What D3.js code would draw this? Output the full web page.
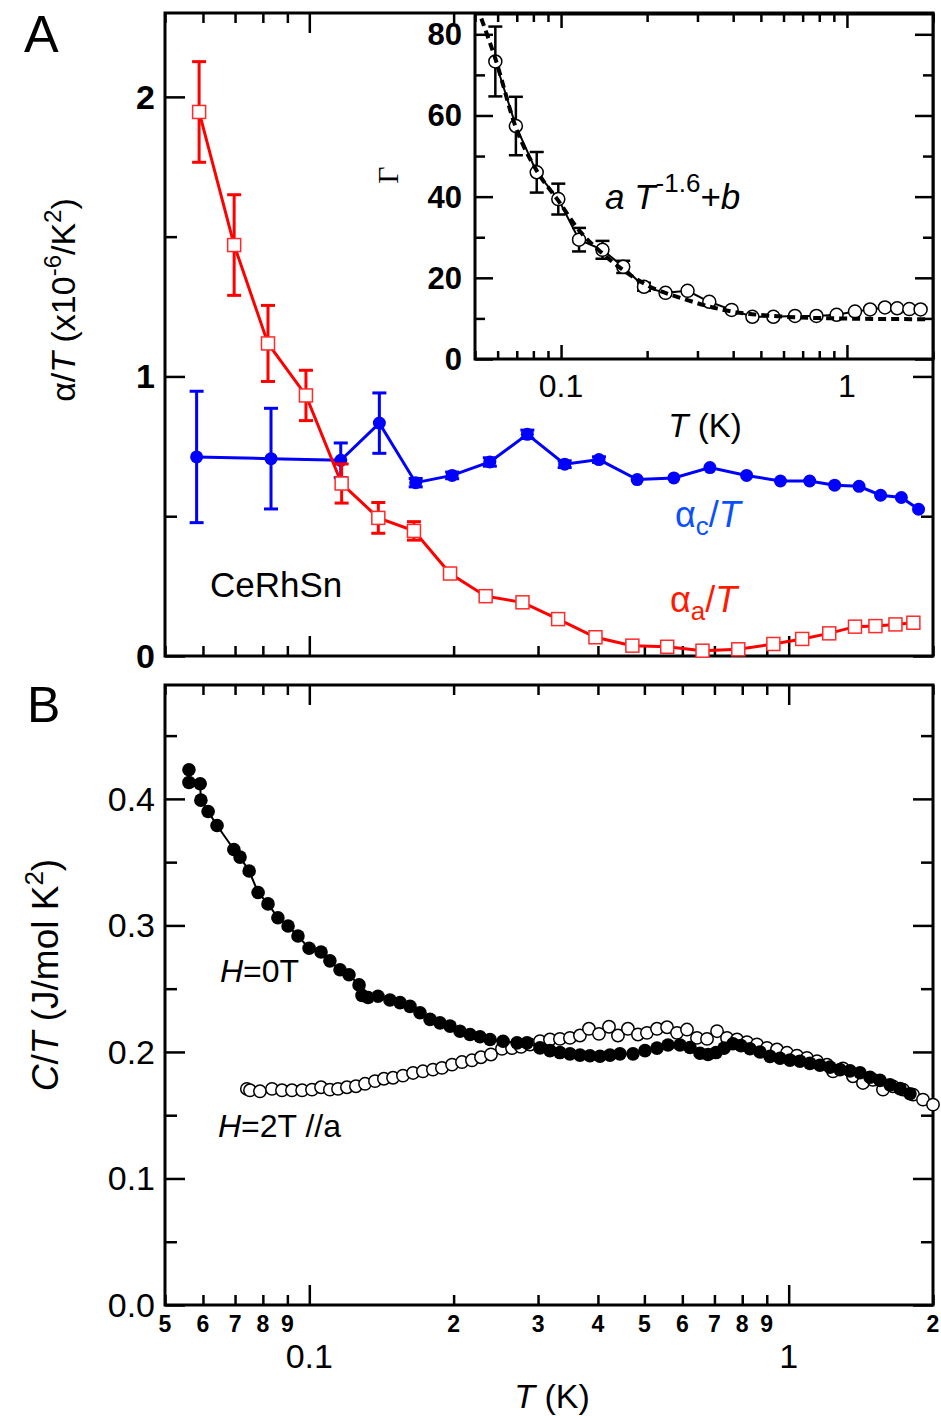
<!DOCTYPE html>
<html>
<head>
<meta charset="utf-8">
<script src="https://cdn.jsdelivr.net/npm/d3@7"></script>
<style>
  body { margin: 0; background: #fff; }
  svg { display: block; font-family: "Liberation Sans", Arial, sans-serif; }
</style>
</head>
<body>
<svg id="fig" width="941" height="1416"></svg>
<script>
// ---------------- panel A : alpha/T ----------------
var aT   = [0.0589, 0.0697, 0.082, 0.0984, 0.1168, 0.1393, 0.1653, 0.1966, 0.2333, 0.2784, 0.3304, 0.3953,
            0.472, 0.558, 0.661, 0.785, 0.929, 1.067, 1.215, 1.375, 1.517, 1.67, 1.82];
var aVal = [1.946, 1.470, 1.118, 0.932, 0.617, 0.494, 0.4475, 0.295, 0.214, 0.192, 0.132, 0.067,
            0.037, 0.033, 0.019, 0.024, 0.043, 0.061, 0.081, 0.105, 0.107, 0.113, 0.119];
var aErr = [0.18, 0.18, 0.136, 0.09, 0.07, 0.055, 0.033, 0.01, 0, 0, 0, 0,
            0, 0, 0, 0, 0, 0, 0, 0, 0, 0, 0];

var cT   = [0.0582, 0.0832, 0.1163, 0.140, 0.1667, 0.1986, 0.238, 0.285, 0.341, 0.402, 0.483,
            0.576, 0.685, 0.817, 0.961, 1.106, 1.247, 1.402, 1.555, 1.718, 1.866];
var cVal = [0.712, 0.706, 0.700, 0.833, 0.620, 0.646, 0.694, 0.793, 0.686, 0.7025, 0.631,
            0.637, 0.674, 0.646, 0.626, 0.626, 0.611, 0.607, 0.575, 0.567, 0.525];
var cErr = [0.235, 0.18, 0.062, 0.108, 0.015, 0.012, 0.015, 0.015, 0.012, 0.01, 0,
            0, 0, 0, 0, 0, 0, 0, 0, 0, 0];

// inset : Gamma
var gT   = [0.0589, 0.0695, 0.0822, 0.0978, 0.1156, 0.1396, 0.165, 0.195, 0.232, 0.277, 0.330, 0.395,
            0.467, 0.553, 0.658, 0.782, 0.920, 1.067, 1.205, 1.358, 1.499, 1.653, 1.81];
var gVal = [73.3, 57.4, 46.0, 39.4, 29.4, 26.9, 22.7, 17.8, 16.3, 16.8, 14.1, 12.1,
            10.4, 10.4, 10.6, 10.6, 10.9, 11.7, 12.2, 12.7, 12.5, 12.3, 12.2];
var gErr = [8.6, 7.2, 5.0, 3.8, 2.9, 2.2, 1.5, 1.0, 0, 0, 0, 0,
            0, 0, 0, 0, 0, 0, 0, 0, 0, 0, 0];
// dashed fit a*T^-1.6+b
var fitT = [0.0526, 0.0589, 0.0695, 0.0822, 0.0978, 0.1156, 0.1396, 0.165, 0.195, 0.277, 0.395, 0.553, 0.92, 1.95];
var fitG = [83.9, 74, 57, 46.4, 39, 31.7, 26, 21.9, 18.6, 14.5, 11.7, 10.6, 10.0, 9.8];

// ---------------- panel B : C/T ----------------
var h0T = [0.0561, 0.0561, 0.0592, 0.0594, 0.0615, 0.0642, 0.0696, 0.0717, 0.0749, 0.0782, 0.0820, 0.0860,
           0.0903, 0.0947, 0.0999, 0.1058, 0.1104, 0.1159, 0.1210, 0.1270, 0.1288, 0.1326, 0.1391, 0.1473,
           0.1546, 0.1622, 0.1702, 0.1786, 0.1873, 0.1966, 0.2062, 0.2164, 0.2270, 0.2382, 0.2536, 0.2712,
           0.2845, 0.3028, 0.3177, 0.3333, 0.3497, 0.3669, 0.3849, 0.4039, 0.4238, 0.4446, 0.4734, 0.5015,
           0.5312, 0.5601, 0.5933, 0.6225, 0.6531, 0.6788, 0.7053, 0.7330, 0.7652, 0.7952, 0.8303, 0.8711,
           0.9141, 0.9590, 1.0061, 1.0555, 1.1073, 1.1620, 1.2190, 1.2793, 1.3425, 1.4084, 1.4777, 1.5502,
           1.6266, 1.7067, 1.7905];
var h0Val = [0.423, 0.413, 0.412, 0.399, 0.390, 0.379, 0.360, 0.354, 0.343, 0.326, 0.317, 0.306,
             0.2995, 0.2916, 0.2819, 0.279, 0.272, 0.265, 0.261, 0.253, 0.2447, 0.243, 0.244, 0.241,
             0.239, 0.236, 0.231, 0.2257, 0.223, 0.2204, 0.2164, 0.2138, 0.212, 0.2098, 0.2085, 0.2072,
             0.2072, 0.2032, 0.2010, 0.1995, 0.1985, 0.1975, 0.1970, 0.1966, 0.1975, 0.1985, 0.1985, 0.2010,
             0.2030, 0.2055, 0.2055, 0.2035, 0.1990, 0.1980, 0.1995, 0.2030, 0.2065, 0.2050, 0.2025, 0.2000,
             0.1965, 0.1950, 0.1935, 0.1927, 0.1910, 0.1895, 0.1880, 0.1860, 0.1850, 0.1835, 0.1800, 0.1775,
             0.1740, 0.1710, 0.1670];

var h2T = [0.0741, 0.0752, 0.0789, 0.0836, 0.0877, 0.0920, 0.0966, 0.1013, 0.1058, 0.1104, 0.1148, 0.1198,
           0.1251, 0.1307, 0.1371, 0.1431, 0.1495, 0.1568, 0.1646, 0.1726, 0.1811, 0.1891, 0.1985, 0.2082,
           0.2184, 0.2281, 0.2393, 0.2523, 0.2648, 0.2765, 0.2887, 0.3028, 0.3177, 0.3333, 0.3497, 0.3669,
           0.3831, 0.4020, 0.4218, 0.4404, 0.4620, 0.4848, 0.5062, 0.5312, 0.5575, 0.5848, 0.6135, 0.6437,
           0.6755, 0.7088, 0.7436, 0.7803, 0.8184, 0.8587, 0.9010, 0.9453, 0.9918, 1.0404, 1.0917, 1.1455,
           1.2018, 1.2369, 1.2977, 1.3615, 1.4288, 1.4991, 1.5729, 1.6502, 1.7314, 1.8167, 1.9061, 2.0];
var h2Val = [0.1708, 0.1697, 0.1689, 0.1708, 0.1697, 0.1697, 0.1697, 0.1702, 0.1721, 0.1702, 0.1708, 0.1721,
             0.1729, 0.1748, 0.1769, 0.1788, 0.1796, 0.1813, 0.1834, 0.1847, 0.1860, 0.1874, 0.1900, 0.1920,
             0.1934, 0.1958, 0.1980, 0.2025, 0.2030, 0.2040, 0.2059, 0.2085, 0.2098, 0.2103, 0.2111, 0.2130,
             0.2183, 0.2143, 0.2199, 0.2130, 0.2183, 0.2138, 0.2151, 0.2183, 0.2195, 0.2151, 0.2177, 0.2111,
             0.2103, 0.2164, 0.2111, 0.2098, 0.2077, 0.2059, 0.2032, 0.2019, 0.1993, 0.1971, 0.1953, 0.1927,
             0.1900, 0.1847, 0.1870, 0.1808, 0.1755, 0.1780, 0.1702, 0.1728, 0.1702, 0.1663, 0.1623, 0.1584];

var yTicksA = [0, 1, 2];
var yTicksB = [0, 0.1, 0.2, 0.3, 0.4];
var yTicksI = [0, 20, 40, 60, 80];

//================ scales ================
var x  = d3.scaleLog().domain([0.05, 2]).range([165, 933]);
var yA = d3.scaleLinear().domain([0, 2.3]).range([656, 13]);
var xi = d3.scaleLog().domain([0.05, 2]).range([475, 933]);
var yi = d3.scaleLinear().domain([0, 85]).range([359, 14]);
var yB = d3.scaleLinear().domain([0, 0.49]).range([1305, 685]);

var svg = d3.select("#fig");

var logAll = x.ticks();
var logMajor = [0.1, 1];
var logMinor = logAll.filter(function(d) { return logMajor.indexOf(d) < 0; });

// draw inward ticks only (no labels, no domain line)
function ticks(g, axis, vals, size, tr) {
    g.append("g")
        .attr("transform", tr)
        .call(axis.tickValues(vals).tickSize(-size).tickFormat(""))
        .call(function(s) {
            s.select(".domain").remove();
            s.selectAll("line").attr("stroke", "#000").attr("stroke-width", 2.5);
        });
}

function frame(g, xs, ys, o) {
    var x0 = xs.range()[0], x1 = xs.range()[1], y0 = ys.range()[0], y1 = ys.range()[1];
    g.append("rect").attr("x", x0).attr("y", y1).attr("width", x1 - x0).attr("height", y0 - y1)
        .attr("fill", o.fill || "none").attr("stroke", "#000").attr("stroke-width", 3);
    ticks(g, d3.axisBottom(xs), logMinor, o.xmin, "translate(0," + y0 + ")");
    ticks(g, d3.axisBottom(xs), logMajor, o.xmaj, "translate(0," + y0 + ")");
    ticks(g, d3.axisTop(xs), logMinor, o.xmin, "translate(0," + y1 + ")");
    ticks(g, d3.axisTop(xs), logMajor, o.xmaj, "translate(0," + y1 + ")");
    ticks(g, d3.axisLeft(ys), o.ymin, o.yminLen, "translate(" + x0 + ",0)");
    ticks(g, d3.axisLeft(ys), o.ymaj, o.ymajLen, "translate(" + x0 + ",0)");
    if (o.right) {
        ticks(g, d3.axisRight(ys), o.ymin, o.yminLen, "translate(" + x1 + ",0)");
        ticks(g, d3.axisRight(ys), o.ymaj, o.ymajLen, "translate(" + x1 + ",0)");
    }
}

function errBars(g, T, V, E, xs, ys, color, w) {
    var d = T.map(function(t, i) { return {t: t, v: V[i], e: E[i]}; }).filter(function(d) { return d.e > 0; });
    var eb = g.append("g").attr("stroke", color).attr("stroke-width", w);
    eb.selectAll(".v").data(d).enter().append("line")
        .attr("x1", function(d) { return xs(d.t); }).attr("x2", function(d) { return xs(d.t); })
        .attr("y1", function(d) { return ys(d.v + d.e); }).attr("y2", function(d) { return ys(d.v - d.e); });
    [1, -1].forEach(function(s) {
        eb.selectAll(".c" + s).data(d).enter().append("line")
            .attr("x1", function(d) { return xs(d.t) - 7; }).attr("x2", function(d) { return xs(d.t) + 7; })
            .attr("y1", function(d) { return ys(d.v + s * d.e); }).attr("y2", function(d) { return ys(d.v + s * d.e); });
    });
}

function zip(T, V) { return T.map(function(t, i) { return [t, V[i]]; }); }

//================ panel A ================
var gA = svg.append("g");
frame(gA, x, yA, {xmin: 10, xmaj: 20, ymaj: yTicksA, ymajLen: 20, ymin: [0.5, 1.5], yminLen: 12, right: true});

gA.selectAll(".ylA").data(yTicksA).enter().append("text")
    .attr("x", 155).attr("y", function(d) { return yA(d) + 12; })
    .attr("text-anchor", "end").attr("font-size", 34).attr("font-weight", "bold")
    .text(function(d) { return d; });

// alpha_c (blue)
errBars(gA, cT, cVal, cErr, x, yA, "#0000ff", 3);
gA.append("path").datum(zip(cT, cVal))
    .attr("d", d3.line().x(function(d) { return x(d[0]); }).y(function(d) { return yA(d[1]); }))
    .attr("fill", "none").attr("stroke", "#0000ff").attr("stroke-width", 3);
gA.selectAll(".cpt").data(zip(cT, cVal)).enter().append("circle")
    .attr("cx", function(d) { return x(d[0]); }).attr("cy", function(d) { return yA(d[1]); })
    .attr("r", 6.5).attr("fill", "#0000ff");

// alpha_a (red)
errBars(gA, aT, aVal, aErr, x, yA, "#ff0000", 3);
gA.append("path").datum(zip(aT, aVal))
    .attr("d", d3.line().x(function(d) { return x(d[0]); }).y(function(d) { return yA(d[1]); }))
    .attr("fill", "none").attr("stroke", "#ff0000").attr("stroke-width", 3);
gA.selectAll(".apt").data(zip(aT, aVal)).enter().append("rect")
    .attr("x", function(d) { return x(d[0]) - 6.5; }).attr("y", function(d) { return yA(d[1]) - 6.5; })
    .attr("width", 13).attr("height", 13)
    .attr("fill", "#fff").attr("stroke", "#ff2a2a").attr("stroke-width", 1.5);

// texts panel A
svg.append("text").attr("x", 24).attr("y", 52).attr("font-size", 52).text("A");
svg.append("text").attr("x", 210).attr("y", 597).attr("font-size", 35).text("CeRhSn");

var lc = svg.append("text").attr("x", 675).attr("y", 527).attr("font-size", 36).attr("fill", "#0a50ff");
lc.append("tspan").text("α");
lc.append("tspan").attr("font-size", 26).attr("dy", 8).text("c");
lc.append("tspan").attr("dy", -8).text("/");
lc.append("tspan").attr("font-style", "italic").text("T");

var la = svg.append("text").attr("x", 670).attr("y", 612).attr("font-size", 36).attr("fill", "#ff1a00");
la.append("tspan").text("α");
la.append("tspan").attr("font-size", 26).attr("dy", 8).text("a");
la.append("tspan").attr("dy", -8).text("/");
la.append("tspan").attr("font-style", "italic").text("T");

var ylabA = svg.append("text").attr("transform", "translate(75,300) rotate(-90)")
    .attr("text-anchor", "middle").attr("font-size", 34);
ylabA.append("tspan").text("α/");
ylabA.append("tspan").attr("font-style", "italic").text("T");
ylabA.append("tspan").text(" (x10");
ylabA.append("tspan").attr("font-size", 24).attr("dy", -14).text("-6");
ylabA.append("tspan").attr("dy", 14).text("/K");
ylabA.append("tspan").attr("font-size", 24).attr("dy", -14).text("2");
ylabA.append("tspan").attr("dy", 14).text(")");

//================ inset ================
var gI = svg.append("g");
frame(gI, xi, yi, {fill: "#fff", xmin: 8, xmaj: 14, ymaj: yTicksI, ymajLen: 18, ymin: [10, 30, 50, 70], yminLen: 10, right: true});

gI.selectAll(".yli").data(yTicksI).enter().append("text")
    .attr("x", 462).attr("y", function(d) { return yi(d) + 11; })
    .attr("text-anchor", "end").attr("font-size", 31).attr("font-weight", "bold")
    .text(function(d) { return d; });
gI.selectAll(".xli").data(logMajor).enter().append("text")
    .attr("x", function(d) { return xi(d); }).attr("y", 397)
    .attr("text-anchor", "middle").attr("font-size", 32)
    .text(function(d) { return d; });

errBars(gI, gT, gVal, gErr, xi, yi, "#000", 2.5);
gI.append("path").datum(zip(gT, gVal))
    .attr("d", d3.line().x(function(d) { return xi(d[0]); }).y(function(d) { return yi(d[1]); }))
    .attr("fill", "none").attr("stroke", "#000").attr("stroke-width", 2);
gI.selectAll(".gpt").data(zip(gT, gVal)).enter().append("circle")
    .attr("cx", function(d) { return xi(d[0]); }).attr("cy", function(d) { return yi(d[1]); })
    .attr("r", 6.5).attr("fill", "#fff").attr("stroke", "#000").attr("stroke-width", 1.5);
gI.append("path").datum(zip(fitT, fitG))
    .attr("d", d3.line().curve(d3.curveMonotoneX).x(function(d) { return xi(d[0]); }).y(function(d) { return yi(d[1]); }))
    .attr("fill", "none").attr("stroke", "#000").attr("stroke-width", 4).attr("stroke-dasharray", "8,5");

var fm = svg.append("text").attr("x", 605).attr("y", 209).attr("font-size", 35);
fm.append("tspan").attr("font-style", "italic").text("a ");
fm.append("tspan").attr("font-style", "italic").text("T");
fm.append("tspan").attr("font-size", 26).attr("dy", -17).text("-1.6");
fm.append("tspan").attr("dy", 17).text("+");
fm.append("tspan").attr("font-style", "italic").text("b");

svg.append("text").attr("transform", "translate(398,175) rotate(-90)")
    .attr("text-anchor", "middle").attr("font-size", 30)
    .attr("font-family", "'Liberation Serif', serif").text("Γ");
var xlabI = svg.append("text").attr("x", 705).attr("y", 437).attr("text-anchor", "middle").attr("font-size", 33);
xlabI.append("tspan").attr("font-style", "italic").text("T");
xlabI.append("tspan").text(" (K)");

//================ panel B ================
var gB = svg.append("g");
frame(gB, x, yB, {xmin: 10, xmaj: 20, ymaj: yTicksB, ymajLen: 20,
    ymin: [0.05, 0.15, 0.25, 0.35, 0.45], yminLen: 12, right: true});

gB.selectAll(".ylB").data(yTicksB).enter().append("text")
    .attr("x", 155).attr("y", function(d) { return yB(d) + 12; })
    .attr("text-anchor", "end").attr("font-size", 34)
    .text(function(d) { return d.toFixed(1); });

gB.selectAll(".xsm").data(logMinor).enter().append("text")
    .attr("x", function(d) { return x(d); }).attr("y", 1332)
    .attr("text-anchor", "middle").attr("font-size", 23).attr("font-weight", "bold")
    .text(function(d) { return Math.round(d / Math.pow(10, Math.floor(Math.log10(d) + 1e-9))); });
gB.selectAll(".xbig").data(logMajor).enter().append("text")
    .attr("x", function(d) { return x(d); }).attr("y", 1368)
    .attr("text-anchor", "middle").attr("font-size", 34)
    .text(function(d) { return d; });

// H = 2T (open)
gB.selectAll(".h2").data(zip(h2T, h2Val)).enter().append("circle")
    .attr("cx", function(d) { return x(d[0]); }).attr("cy", function(d) { return yB(d[1]); })
    .attr("r", 6.2).attr("fill", "#fff").attr("stroke", "#000").attr("stroke-width", 1.5);
// H = 0T (filled + line)
gB.append("path").datum(zip(h0T, h0Val))
    .attr("d", d3.line().x(function(d) { return x(d[0]); }).y(function(d) { return yB(d[1]); }))
    .attr("fill", "none").attr("stroke", "#000").attr("stroke-width", 2);
gB.selectAll(".h0").data(zip(h0T, h0Val)).enter().append("circle")
    .attr("cx", function(d) { return x(d[0]); }).attr("cy", function(d) { return yB(d[1]); })
    .attr("r", 6.8).attr("fill", "#000");

svg.append("text").attr("x", 27).attr("y", 722).attr("font-size", 50).text("B");

var t0 = svg.append("text").attr("x", 220).attr("y", 982).attr("font-size", 32);
t0.append("tspan").attr("font-style", "italic").text("H");
t0.append("tspan").text("=0T");
var t2 = svg.append("text").attr("x", 218).attr("y", 1137).attr("font-size", 32);
t2.append("tspan").attr("font-style", "italic").text("H");
t2.append("tspan").text("=2T //a");

var ylabB = svg.append("text").attr("transform", "translate(58,975) rotate(-90)")
    .attr("text-anchor", "middle").attr("font-size", 37);
ylabB.append("tspan").attr("font-style", "italic").text("C");
ylabB.append("tspan").text("/");
ylabB.append("tspan").attr("font-style", "italic").text("T");
ylabB.append("tspan").text(" (J/mol K");
ylabB.append("tspan").attr("font-size", 26).attr("dy", -15).text("2");
ylabB.append("tspan").attr("dy", 15).text(")");

var xlabB = svg.append("text").attr("x", 552).attr("y", 1408).attr("text-anchor", "middle").attr("font-size", 34);
xlabB.append("tspan").attr("font-style", "italic").text("T");
xlabB.append("tspan").text(" (K)");
</script>
</body>
</html>
